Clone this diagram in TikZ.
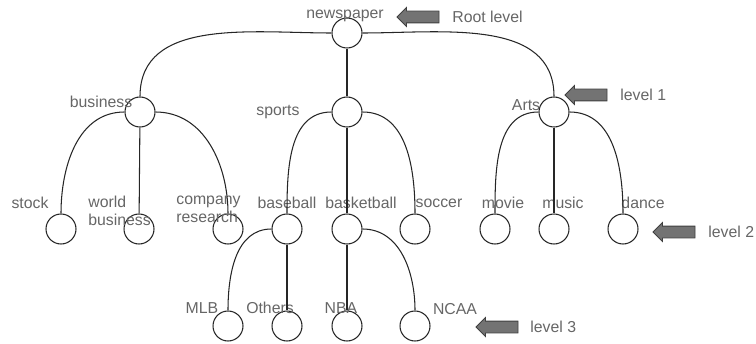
\documentclass[tikz,border=0pt]{standalone}
\usepackage{fontspec}
\setmainfont{Liberation Sans}
\usetikzlibrary{shapes.arrows}

\begin{document}
\begin{tikzpicture}
      [%%%%%%%%%%%%%%%%%%%%%%%%%%%%%%
      x=0.02cm,y=-0.02cm,
      circ/.style={circle,draw=black!85,line width=0.6pt,minimum size=0.6cm,inner sep=0pt},
      txt/.style={text=black!60,font=\fontsize{9}{10}\selectfont,inner sep=0pt},
      lnk/.style={draw=black!85,line width=0.6pt},
      levelarrow/.style={single arrow,draw=black!75,fill=black!55,line width=0.5pt,
        single arrow head extend=0.07cm,inner xsep=0pt,inner ysep=0.11cm,
        minimum height=0.84cm,shape border rotate=180},
      ]%%%%%%%%%%%%%%%%%%%%%%%%%%%%%%

      \useasboundingbox (0,0) rectangle (756,344);

      % nodes
      \node[circ] (newspaper) at (347,33){};

      \node[circ] (business) at (140,112){};
      \node[circ] (sports) at (347,112){};
      \node[circ] (arts) at (554,112){};

      \foreach \n/\x in {stock/61,world/139,company/228,baseball/287,basketball/347,
                         soccer/415,movie/495,music/554,dance/623}
        \node[circ] (\n) at (\x,229){};

      \foreach \n/\x in {mlb/228,others/287,nba/347,ncaa/415}
        \node[circ] (\n) at (\x,326){};

      % texts
      \node[txt] (newspaper-t) at (345,16) {newspaper};
      \node[txt] (business-t) at (101,102) {business};
      \node[txt] (sports-t) at (278,112) {sports};
      \node[txt] (arts-t) at (526,105) {Arts};

      \node[txt] (stock-t) at (30,203) {stock};
      \node[txt,anchor=north west,align=left] (world-t) at (88,196) {world\\business};
      \node[txt,anchor=north west,align=left] (company-t) at (176,196) {company\\research};
      \node[txt] (baseball-t) at (287,203) {baseball};
      \node[txt] (basketball-t) at (361,203) {basketball};
      \node[txt] (soccer-t) at (439,203) {soccer};
      \node[txt] (movie-t) at (503,203) {movie};
      \node[txt] (music-t) at (563,203) {music};
      \node[txt] (dance-t) at (643,203) {dance};

      \node[txt] (mlb-t) at (202,308) {MLB};
      \node[txt] (others-t) at (270,308) {Others};
      \node[txt] (nba-t) at (341,308) {NBA};
      \node[txt] (ncaa-t) at (455,309) {NCAA};

      % levels
      \node[levelarrow] (root-a) at (421,17){};
      \node[txt,anchor=west] (root-l) at (452,17) {Root level};
      \node[levelarrow] (lvl1-a) at (589,95){};
      \node[txt,anchor=west] (lvl1-l) at (620,95) {level 1};
      \node[levelarrow] (lvl2-a) at (677,232){};
      \node[txt,anchor=west] (lvl2-l) at (708,232) {level 2};
      \node[levelarrow] (lvl3-a) at (500,327){};
      \node[txt,anchor=west] (lvl3-l) at (530,327) {level 3};

      % links
      \draw[lnk] (newspaper.west) to[out=180,in=90] (business.north);
      \draw[lnk] (newspaper) -- (sports);
      \draw[lnk] (newspaper.east) to[out=0,in=90] (arts.north);

      \draw[lnk] (business.west) to[out=180,in=90] (stock.north);
      \draw[lnk] (business) -- (world);
      \draw[lnk] (business.east) to[out=0,in=90] (company.north);

      \draw[lnk] (sports.west) to[out=180,in=90] (baseball.north);
      \draw[lnk] (sports) -- (basketball);
      \draw[lnk] (sports.east) to[out=0,in=90] (soccer.north);

      \draw[lnk] (arts.west) to[out=180,in=90] (movie.north);
      \draw[lnk] (arts) -- (music);
      \draw[lnk] (arts.east) to[out=0,in=90] (dance.north);

      \draw[lnk] (baseball.west) to[out=180,in=90] (mlb.north);
      \draw[lnk] (baseball) -- (others);
      \draw[lnk] (basketball) -- (nba);
      \draw[lnk] (basketball.east) to[out=0,in=90] (ncaa.north);
    \end{tikzpicture}
\end{document}
